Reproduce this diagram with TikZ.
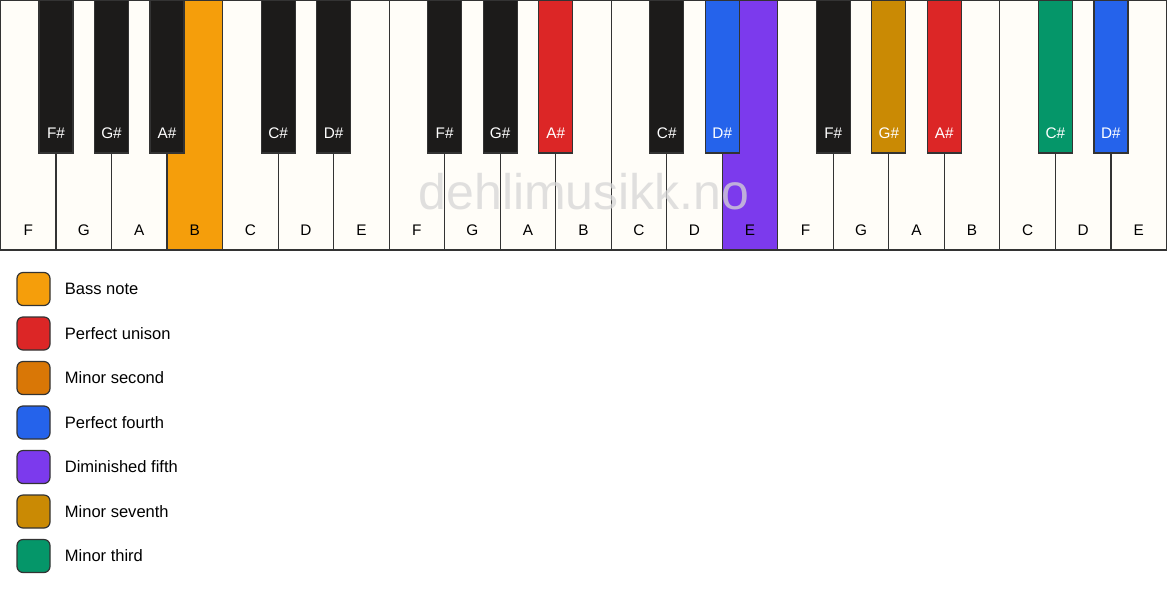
\documentclass[tikz,border=0pt]{standalone}
\usepackage{fontspec}
\setmainfont{Liberation Sans}
\usepackage{tikz}
\usetikzlibrary{positioning}
\definecolor{keycream}{HTML}{FFFDF8}
\definecolor{keyblack}{HTML}{1C1B1A}
\definecolor{keyline}{HTML}{333333}
\definecolor{bassnote}{HTML}{F59E0B}
\definecolor{unison}{HTML}{DC2626}
\definecolor{minsecond}{HTML}{D97706}
\definecolor{pfourth}{HTML}{2563EB}
\definecolor{dimfifth}{HTML}{7C3AED}
\definecolor{minseventh}{HTML}{CA8A04}
\definecolor{minthird}{HTML}{059669}
\tikzstyle{whitekey}=[draw=keyline, line width=0.9pt, inner sep=0pt, outer sep=0pt,
    minimum width=41.64pt, minimum height=187.5pt]
\tikzstyle{blackkey}=[draw=keyline, line width=0.9pt, inner sep=0pt, outer sep=0pt,
    minimum width=25.5pt, minimum height=114.75pt]
\tikzstyle{swatch}=[draw=keyline, line width=0.9pt, rounded corners=4.5pt,
    minimum size=24.75pt, inner sep=0pt]

\begin{document}
\begin{tikzpicture} [
            x=0.75pt, y=-0.75pt, font=\fontsize{11.5}{13}\selectfont
        ]
        \useasboundingbox (0,0) rectangle (1167,594);
        % white keys
        \foreach \n/\c [count=\i from 0] in {F/keycream,G/keycream,A/keycream,B/bassnote,
            C/keycream,D/keycream,E/keycream,F/keycream,G/keycream,A/keycream,B/keycream,
            C/keycream,D/keycream,E/dimfifth,F/keycream,G/keycream,A/keycream,B/keycream,
            C/keycream,D/keycream,E/keycream} {
            \node[whitekey, fill=\c] (w\i) at ({0.5+55.52*(\i+0.5)}, 125) {};
            \node (wl\i) at ({0.5+55.52*(\i+0.5)}, 230) {\n};
        }
        % watermark
        \node[text=black!16, opacity=0.75, font=\fontsize{37.5}{40}\selectfont] (mark)
            at (584, 192) {dehlimusikk.no};
        % black keys
        \foreach \j/\n/\c in {0/F/keyblack,1/G/keyblack,2/A/keyblack,4/C/keyblack,5/D/keyblack,
            7/F/keyblack,8/G/keyblack,9/A/unison,11/C/keyblack,12/D/pfourth,
            14/F/keyblack,15/G/minseventh,16/A/unison,18/C/minthird,19/D/pfourth} {
            \node[blackkey, fill=\c] (b\j) at ({0.5+55.52*(\j+1)}, 76.5) {};
            \node[text=white] (bl\j) at ({0.5+55.52*(\j+1)}, 133) {\n\#};
        }
        % legend
        \foreach \t/\c [count=\k from 0] in {Bass note/bassnote, Perfect unison/unison,
            Minor second/minsecond, Perfect fourth/pfourth, Diminished fifth/dimfifth,
            Minor seventh/minseventh, Minor third/minthird} {
            \node[swatch, fill=\c] (sw\k) at (33.5, {289+44.5*\k}) {};
            \node[inner sep=0pt, right=10.5pt of sw\k, font=\fontsize{12.4}{14}\selectfont] (lt\k) {\t};
        }
    \end{tikzpicture}
\end{document}
